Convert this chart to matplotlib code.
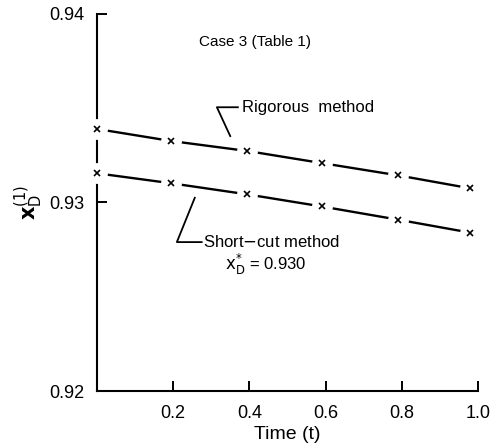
import matplotlib
matplotlib.use("Agg")
import matplotlib.pyplot as plt
import numpy as np

# values
time_pts = [0.0, 0.195, 0.395, 0.59, 0.79, 0.98]
rigorous = [0.9339, 0.93326, 0.93273, 0.93209, 0.93144, 0.93075]
shortcut = [0.93155, 0.93102, 0.93043, 0.92979, 0.92909, 0.92840]
xticks = [0.2, 0.4, 0.6, 0.8, 1.0]
yticks = [0.92, 0.93, 0.94]

plt.rcParams['font.family'] = ['Liberation Sans', 'DejaVu Sans']

fig = plt.figure(figsize=(4.99, 4.48), dpi=100)
ax = fig.add_axes([0.194, 0.127, 0.764, 0.842])

for ys in (rigorous, shortcut):
    ax.plot(time_pts, ys, color='black', lw=1.7, zorder=2)
    # white blobs break the line around each marker
    ax.plot(time_pts, ys, ls='none', marker='o', ms=15, mfc='white', mec='none', zorder=3, clip_on=False)
    ax.plot(time_pts, ys, ls='none', marker='x', ms=5, mew=1.2, color='black', zorder=4, clip_on=False)

ax.set_xlim(0, 1.0)
ax.set_ylim(0.92, 0.94)
ax.set_xticks(xticks)
ax.set_xticklabels(['%.1f' % v for v in xticks])
ax.set_yticks(yticks)
ax.set_yticklabels(['%.2f' % v for v in yticks])
ax.tick_params(direction='in', length=7, width=1.4, labelsize=13, pad=10)
ax.tick_params(axis='y', pad=9)
for s in ['top', 'right']:
    ax.spines[s].set_visible(False)
for s in ['left', 'bottom']:
    ax.spines[s].set_linewidth(1.5)

ax.set_xlabel('Time (t)', fontsize=14, labelpad=3)
ax.set_ylabel(r'$\mathbf{x}_{\mathrm{D}}^{(1)}$', fontsize=15, labelpad=3)

ax.text(0.415, 0.9385, 'Case 3 (Table 1)', fontsize=11, ha='center', va='center')

# leaders
ax.plot([0.37, 0.315, 0.35], [0.93505, 0.93505, 0.93352], color='black', lw=1.3)
ax.text(0.38, 0.93505, 'Rigorous  method', fontsize=12, ha='left', va='center')
ax.plot([0.275, 0.21, 0.257], [0.9279, 0.9279, 0.93025], color='black', lw=1.3)
ax.text(0.278, 0.9279, 'Short$-$cut method', fontsize=12, ha='left', va='center')
ax.text(0.335, 0.9267, r'$\mathrm{x}_{\mathrm{D}}^{*}$ = 0.930', fontsize=12, ha='left', va='center')

fig.savefig('out.png', dpi=100)
